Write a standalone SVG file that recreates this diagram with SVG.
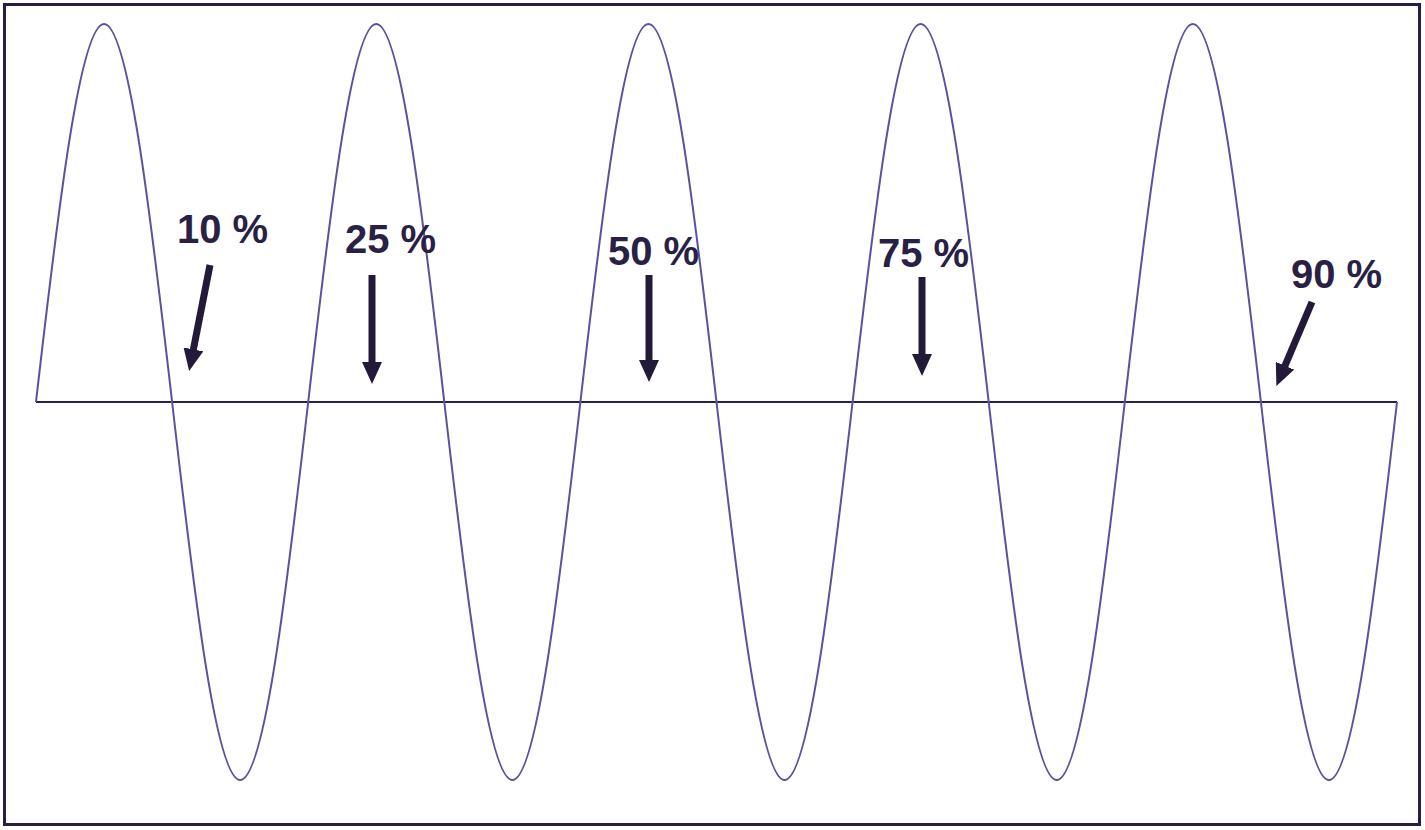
<svg xmlns="http://www.w3.org/2000/svg" width="1425" height="830" viewBox="0 0 1425 830">
<style>
.frame{fill:#ffffff;stroke:#2a1d40;stroke-width:3}
.axis{fill:none;stroke:#2a2050;stroke-width:2}
.wave{fill:none;stroke:#5b519e;stroke-width:2;stroke-linejoin:round}
.arrow{stroke:#231a3a;stroke-width:7;fill:none;marker-end:url(#head)}
.lbl{font-family:"Liberation Sans",Arial,sans-serif;font-weight:bold;font-size:40px;fill:#2a1f45}
</style>
<defs>
<marker id="head" markerUnits="userSpaceOnUse" markerWidth="22" markerHeight="20" refX="1" refY="10" orient="auto">
<path d="M0,0 L22,10 L0,20 Z" fill="#231a3a"/>
</marker>
</defs>
<rect class="frame" x="4.5" y="4.5" width="1415" height="820"/>
<g id="axis">
<line class="axis" x1="36" y1="402" x2="1397" y2="402"/>
</g>
<g id="wave">
<path class="wave" d="M36,402 c22.19,-193.6 44.13,-378 68.05,-378
s45.86,184.4 68.05,378 s44.13,378 68.05,378 s45.86,-184.4 68.05,-378 s44.13,-378 68.05,-378
s45.86,184.4 68.05,378 s44.13,378 68.05,378 s45.86,-184.4 68.05,-378 s44.13,-378 68.05,-378
s45.86,184.4 68.05,378 s44.13,378 68.05,378 s45.86,-184.4 68.05,-378 s44.13,-378 68.05,-378
s45.86,184.4 68.05,378 s44.13,378 68.05,378 s45.86,-184.4 68.05,-378 s44.13,-378 68.05,-378
s45.86,184.4 68.05,378 s44.13,378 68.05,378 s45.86,-184.4 68.05,-378"/>
</g>
<g id="label10"><text class="lbl" x="177" y="243">10 %</text></g>
<g id="label25"><text class="lbl" x="345" y="253">25 %</text></g>
<g id="label50"><text class="lbl" x="608" y="265">50 %</text></g>
<g id="label75"><text class="lbl" x="878" y="267">75 %</text></g>
<g id="label90"><text class="lbl" x="1291" y="288">90 %</text></g>
<g id="connectors">
<line class="arrow" x1="210" y1="265" x2="193.2" y2="350.4"/>
<line class="arrow" x1="372" y1="275" x2="372" y2="363"/>
<line class="arrow" x1="649" y1="275" x2="649" y2="361"/>
<line class="arrow" x1="922" y1="277" x2="922" y2="355"/>
<line class="arrow" x1="1312" y1="302" x2="1284.6" y2="366.7"/>
</g>
</svg>
